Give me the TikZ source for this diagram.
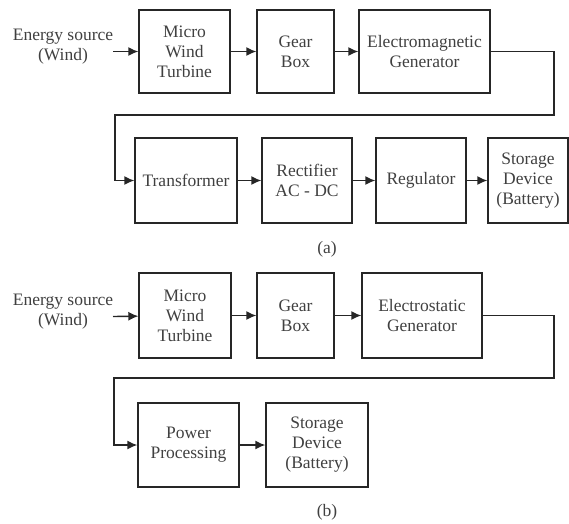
\documentclass[tikz,border=0pt]{standalone}
\usepackage{fontspec}
\setmainfont{Liberation Serif}
\usepackage{tikz}
\usetikzlibrary{arrows.meta}
\tikzset{
    every node/.style={align=center, inner sep=0pt, text=black!75,
    	font=\fontsize{17.5}{20}\selectfont}
}
\tikzset{
    block/.style={draw=black!85, line width=1.4pt}
}
\tikzset{
	flow/.style={draw=black!85, line width=1.4pt,
		-{Latex[length=10pt,width=9pt]}}
}

\begin{document}
\begin{tikzpicture}[x=1pt,y=-1pt]
	\useasboundingbox (0,0) rectangle (569,523);
	% (a)
	\node (a0) at (63,47) {Energy source\\(Wind)};
	\coordinate (a0e) at (113,51.5);
	\node (a1) [block, minimum width=91pt, minimum height=83pt] at (184.5,51.5) {Micro\\Wind\\Turbine};
	\node (a2) [block, minimum width=77pt, minimum height=83pt] at (295.5,51.5) {Gear\\Box};
	\node (a3) [block, minimum width=131pt, minimum height=83pt] at (424.5,51.5) {Electromagnetic\\Generator};
	\node (a4) [block, minimum width=102pt, minimum height=85pt] at (186,180.5) {Transformer};
	\node (a5) [block, minimum width=90pt, minimum height=85pt] at (307,180.5) {Rectifier\\AC - DC};
	\node (a6) [block, minimum width=90pt, minimum height=85pt] at (421,180.5) {Regulator};
	\node (a7) [block, minimum width=80pt, minimum height=85pt] at (528,180.5) {Storage\\Device\\(Battery)};
	\coordinate (ta1) at (554,115);
	\coordinate (ta2) at (115,115);
	\node (acap) at (327,249) {(a)};

	\draw[flow] (a0e) -- (a1); \draw[flow] (a1) -- (a2); \draw[flow] (a2) -- (a3);
	\draw[flow] (a3.east) -| (ta1) -- (ta2) |- (a4.west);
	\draw[flow] (a4) -- (a5); \draw[flow] (a5) -- (a6); \draw[flow] (a6) -- (a7);

	% (b)
	\node (b0) at (63,312) {Energy source\\(Wind)};
	\coordinate (b0e) at (113,316.5);
	\node (b1) [block, minimum width=92pt, minimum height=85pt] at (185,315.5) {Micro\\Wind\\Turbine};
	\node (b2) [block, minimum width=77pt, minimum height=85pt] at (295.5,315.5) {Gear\\Box};
	\node (b3) [block, minimum width=120pt, minimum height=85pt] at (422,315.5) {Electrostatic\\Generator};
	\node (b4) [block, minimum width=101pt, minimum height=84pt] at (188.5,445) {Power\\Processing};
	\node (b5) [block, minimum width=102pt, minimum height=84pt] at (317,445) {Storage\\Device\\(Battery)};
	\coordinate (tb1) at (554,378);
	\coordinate (tb2) at (114,378);
	\node (bcap) at (327,512) {(b)};

	\draw[flow] (b0e) -- (b1); \draw[flow] (b1) -- (b2); \draw[flow] (b2) -- (b3);
	\draw[flow] (b3.east) -| (tb1) -- (tb2) |- (b4.west);
	\draw[flow] (b4) -- (b5);
\end{tikzpicture}
\end{document}
